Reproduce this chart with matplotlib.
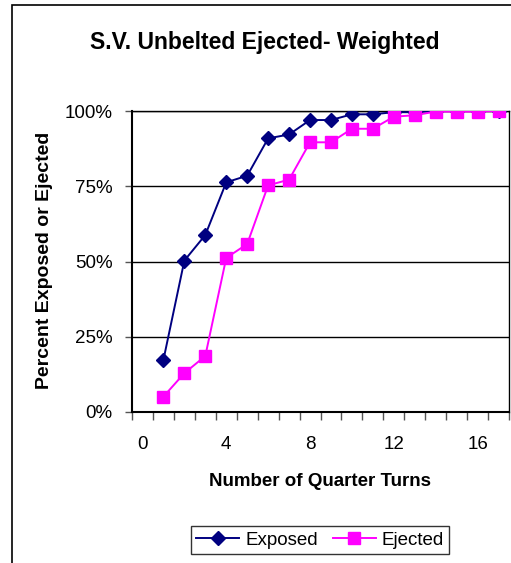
import matplotlib
matplotlib.use('Agg')
import matplotlib.pyplot as plt
from matplotlib.ticker import FixedLocator, PercentFormatter
from matplotlib.patches import Rectangle

plt.rcParams['font.family'] = ['Liberation Sans', 'DejaVu Sans']

# data
quarter_turns = list(range(1, 18))
exposed = [17.3, 50.3, 58.8, 76.3, 78.5, 90.9, 92.2, 97.0, 97.0, 98.9, 98.9,
           99.6, 99.6, 100.0, 100.0, 100.0, 100.0]
ejected = [5.1, 12.9, 18.6, 51.2, 55.8, 75.3, 77.2, 89.6, 89.6, 94.1, 94.1,
           98.1, 98.6, 99.8, 99.8, 99.8, 100.0]
x_labels = [0, 4, 8, 12, 16]
y_ticks = [0, 25, 50, 75, 100]

W, H = 511, 563
fig = plt.figure(figsize=(W / 100, H / 100), dpi=100)

# chart area frame (cropped on the right and bottom)
fig.patches.append(Rectangle((12 / W, -0.1), 1.2, 1 - 5 / H + 0.1,
                             transform=fig.transFigure, fill=False,
                             edgecolor='black', lw=1.2))

ax = fig.add_axes([132 / W, 151 / H, 377 / W, 301 / H])

ax.plot(quarter_turns, exposed, color='#000080', marker='D', markersize=7,
        lw=1.4, label='Exposed', zorder=3)
ax.plot(quarter_turns, ejected, color='#FF00FF', marker='s', markersize=8,
        lw=1.4, label='Ejected', zorder=3)

ax.set_xlim(-0.5, 17.5)
ax.set_ylim(0, 100)

ax.xaxis.set_major_locator(FixedLocator(x_labels))
ax.xaxis.set_minor_locator(FixedLocator([i - 0.5 for i in range(19)]))
ax.tick_params(axis='x', which='major', length=0, pad=17, labelsize=13.5)
ax.tick_params(axis='x', which='minor', length=6, width=1, direction='out',
               color='#555555')
ax.set_yticks(y_ticks)
ax.yaxis.set_major_formatter(PercentFormatter(decimals=0))
ax.tick_params(axis='y', length=5, width=1, direction='out', pad=9,
               labelsize=13.5, color='#555555')

ax.grid(axis='y', color='black', lw=1)
ax.set_axisbelow(True)
for s in ax.spines.values():
    s.set_color('black')
    s.set_linewidth(1)
ax.spines['bottom'].set_linewidth(1.5)
ax.spines['left'].set_linewidth(1.5)

fig.text(265 / W, 1 - 43 / H, 'S.V. Unbelted Ejected- Weighted',
         ha='center', va='center', fontsize=16.5, fontweight='bold')
fig.text(320 / W, 1 - 482 / H, 'Number of Quarter Turns',
         ha='center', va='center', fontsize=13.5, fontweight='bold')
fig.text(45 / W, 1 - 260 / H, 'Percent Exposed or Ejected', rotation=90,
         ha='center', va='center', fontsize=14, fontweight='bold')

leg = fig.legend(loc='center', bbox_to_anchor=(320 / W, 1 - 540 / H), ncol=2,
                 fontsize=13.5, frameon=True, fancybox=False, edgecolor='black',
                 handlelength=2.3, columnspacing=0.8, handletextpad=0.3,
                 borderpad=0.3)
leg.get_frame().set_linewidth(1)

fig.savefig('out.png', dpi=100)
